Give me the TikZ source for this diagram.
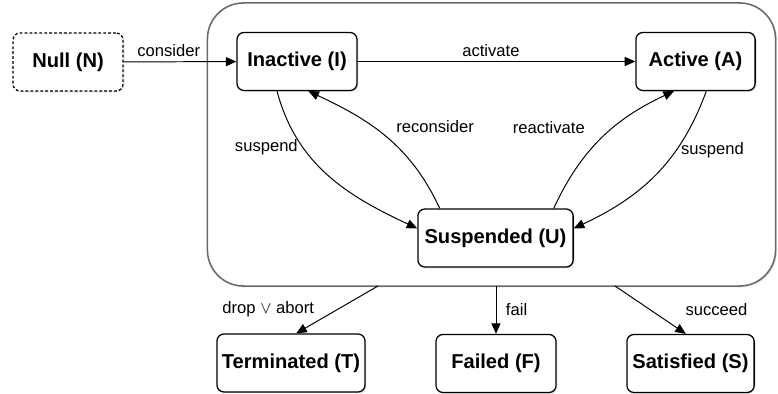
\documentclass[tikz,border=0pt]{standalone}
\usepackage{fontspec}
\setmainfont{Liberation Sans}
\usetikzlibrary{arrows.meta,shadows}
\definecolor{boxgray}{RGB}{105,105,105}

\begin{document}
\begin{tikzpicture}[x=0.025cm,y=0.025cm,->,>={Triangle[length=7.5pt,width=6.5pt]},line width=0.7pt,
  state/.style={draw,rounded corners=5pt,line width=0.9pt,fill=white,minimum height=1.45cm,
    font=\fontsize{14.3}{16}\selectfont\bfseries,
    drop shadow={shadow xshift=1pt,shadow yshift=-1pt,opacity=0.25}},
  trans/.style={font=\fontsize{11.8}{13}\selectfont}]
\useasboundingbox (0,0) rectangle (778,394);
%container
  \node[draw=boxgray,line width=1.1pt,rounded corners=0.9cm,fill=white,
    minimum width=14.2cm,minimum height=7.075cm,
    drop shadow={shadow xshift=1pt,shadow yshift=-1pt,opacity=0.2}] (box) at (491.5,249.5) {};
%N
  \node[state,dashed,dash pattern=on 2pt off 1.5pt,minimum width=2.75cm] (N) at (68,332) {Null (N)};
%I
  \node[state,minimum width=3cm] (I) at (297,332.5) {Inactive (I)};
%A
  \node[state,minimum width=2.98cm] (A) at (695.5,332.5) {Active (A)};
%U
  \node[state,minimum width=3.88cm] (U) at (495.5,156) {Suspended (U)};
%T
  \node[state,minimum width=3.7cm] (T) at (291,31) {Terminated (T)};
%F
  \node[state,minimum width=3cm] (F) at (496,30.5) {Failed (F)};
%S
  \node[state,minimum width=3.18cm] (S) at (690.5,30.5) {Satisfied (S)};
%exits
  \coordinate (dropfrom) at (378,108);
  \coordinate (failfrom) at (496,108);
  \coordinate (succfrom) at (615,108);
%paths
  \path[every node/.style={trans}]
    (N) edge node[pos=0.4,above] {consider} (I)
    (I) edge node[pos=0.48,above] {activate} (A)
    (I.-124) edge [out=-75,in=155] node[pos=0.3,left] {suspend} (U.173)
    (U.152) edge [out=115,in=-25] node[pos=0.6,right,xshift=0.45cm] {reconsider} (I.-69)
    (U.27) edge [out=65,in=205] node[pos=0.6,left,xshift=-0.6cm] {reactivate} (A.-126)
    (A.-70) edge [out=-110,in=25] node[pos=0.33,right] {suspend} (U.7)
    (dropfrom) edge node[left,xshift=-0.45cm] {drop $\vee$ abort} (T.80)
    (failfrom) edge node[right,xshift=0.12cm] {fail} (F)
    (succfrom) edge node[right,xshift=0.75cm] {succeed} (S.99);
\end{tikzpicture}
\end{document}
